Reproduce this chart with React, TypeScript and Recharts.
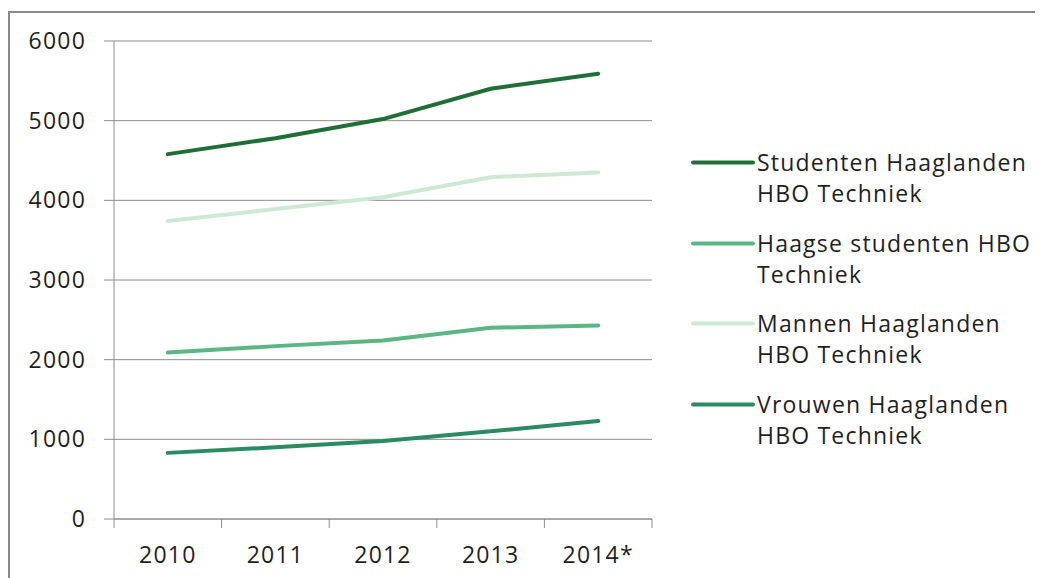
import React from 'react';
import { LineChart, Line, XAxis, YAxis, CartesianGrid, Legend } from 'recharts';

const years = ['2010', '2011', '2012', '2013', '2014*'];
const studentenHaaglanden = [4580, 4780, 5020, 5400, 5590];
const haagseStudenten = [2090, 2170, 2240, 2400, 2430];
const mannenHaaglanden = [3740, 3890, 4040, 4290, 4350];
const vrouwenHaaglanden = [830, 900, 980, 1100, 1230];
const yTicks = [0, 1000, 2000, 3000, 4000, 5000, 6000];

const series = [
  { key: 'studenten', name: 'Studenten Haaglanden HBO Techniek', color: '#1f6e37', values: studentenHaaglanden },
  { key: 'haagse', name: 'Haagse studenten HBO Techniek', color: '#5cb683', values: haagseStudenten },
  { key: 'mannen', name: 'Mannen Haaglanden HBO Techniek', color: '#cde9d3', values: mannenHaaglanden },
  { key: 'vrouwen', name: 'Vrouwen Haaglanden HBO Techniek', color: '#2a8a62', values: vrouwenHaaglanden },
];

const data = years.map((year, i) => {
  const row: Record<string, number | string> = { idx: i, year };
  series.forEach((s) => {
    row[s.key] = s.values[i];
  });
  return row;
});

// tick values: boundaries at .5 get a tick mark, integers get the year label
const xTicks: number[] = [];
for (let i = 0; i <= years.length; i++) {
  xTicks.push(i - 0.5);
  if (i < years.length) xTicks.push(i);
}

const FONT = '"Open Sans", sans-serif';
const TEXT = '#1f1f1f';
const GRID = '#8c8c8c';
const SPACING = 1.2;

const XTick = (props: any) => {
  const { x, y, payload } = props;
  const v = payload.value as number;
  if (Number.isInteger(v)) {
    return (
      <text
        x={x}
        y={y + 44}
        textAnchor="middle"
        fill={TEXT}
        fontSize={23}
        fontFamily={FONT}
        letterSpacing={SPACING}
      >
        {years[v]}
      </text>
    );
  }
  return <line x1={x} x2={x} y1={y} y2={y + 9} stroke={GRID} strokeWidth={1} />;
};

const LegendBox = () => (
  <div style={{ fontFamily: FONT, fontSize: 23, color: TEXT, lineHeight: '31px', letterSpacing: SPACING }}>
    {series.map((s) => (
      <div key={s.key} style={{ display: 'flex', alignItems: 'flex-start', height: 80.7 }}>
        <svg width={72} height={31} style={{ flex: 'none' }}>
          <line x1={8} x2={68} y1={15.5} y2={15.5} stroke={s.color} strokeWidth={4} strokeLinecap="round" />
        </svg>
        <div style={{ width: 285 }}>{s.name}</div>
      </div>
    ))}
  </div>
);

export default function App() {
  return (
    <div
      style={{
        marginTop: 3,
        width: 1033,
        height: 565,
        borderTop: '2px solid #8a8a8a',
        borderLeft: '2px solid #8a8a8a',
        background: '#fff',
      }}
    >
      <LineChart width={1033} height={565} data={data} margin={{ top: 28, right: 391, left: 0, bottom: 9 }}>
        <CartesianGrid horizontal vertical={false} stroke={GRID} />
        <XAxis
          dataKey="idx"
          type="number"
          domain={[-0.5, years.length - 0.5]}
          ticks={xTicks}
          interval={0}
          height={50}
          tickSize={0}
          tickMargin={0}
          tickLine={false}
          axisLine={{ stroke: GRID }}
          tick={<XTick />}
        />
        <YAxis
          domain={[0, 6000]}
          ticks={yTicks}
          interval={0}
          width={104}
          tickSize={10}
          tickMargin={18}
          axisLine={{ stroke: GRID }}
          tickLine={{ stroke: GRID }}
          tick={{ fill: TEXT, fontSize: 23, fontFamily: FONT, letterSpacing: SPACING }}
        />
        <Legend
          layout="vertical"
          align="center"
          verticalAlign="middle"
          content={<LegendBox />}
          wrapperStyle={{ left: 675, top: 134, width: 358 }}
        />
        {series.map((s) => (
          <Line
            key={s.key}
            type="linear"
            dataKey={s.key}
            name={s.name}
            stroke={s.color}
            strokeWidth={4}
            strokeLinecap="round"
            dot={false}
            activeDot={false}
            isAnimationActive={false}
          />
        ))}
      </LineChart>
    </div>
  );
}
